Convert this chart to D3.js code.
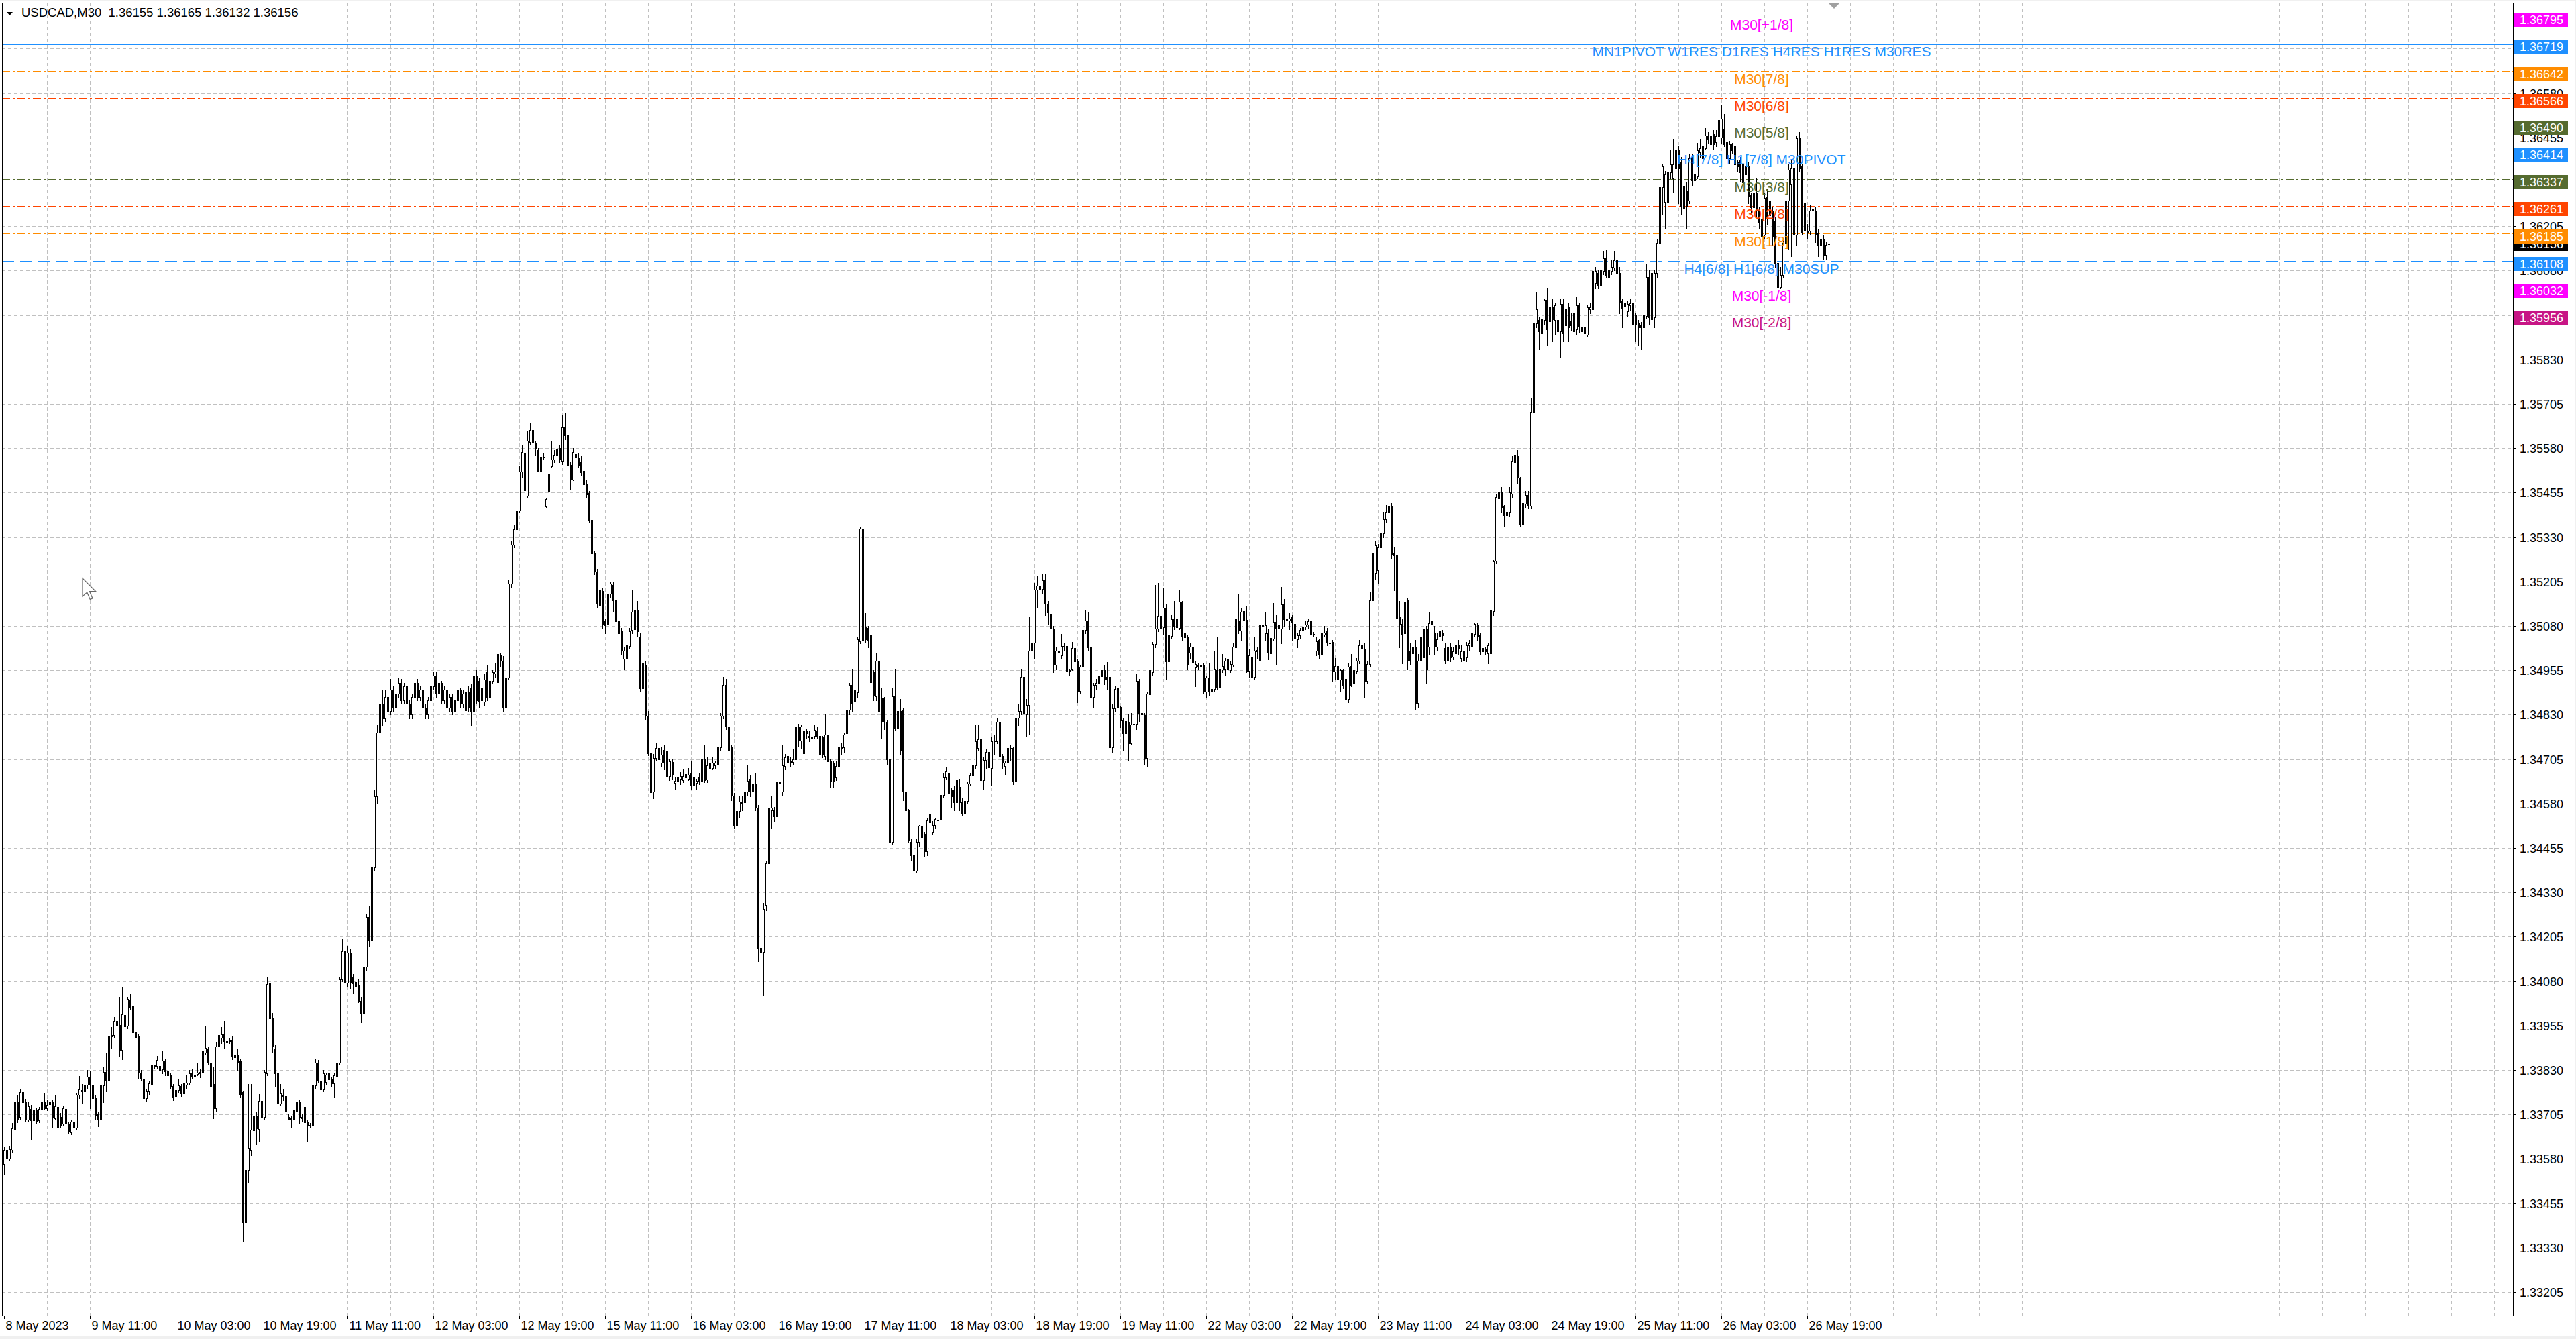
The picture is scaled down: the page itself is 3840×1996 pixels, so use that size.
<!DOCTYPE html>
<html><head><meta charset="utf-8">
<script src="https://cdn.jsdelivr.net/npm/d3@7"></script>
<style>
html,body{margin:0;padding:0;background:#fff;overflow:hidden;}
svg{display:block;}
text{font-family:"Liberation Sans",Arial,sans-serif;}
</style></head>
<body>
<svg id="chart" width="3840" height="1996"></svg>
<script>
// ---------------- DATA ----------------
// prices stored as points (0.00001) above BASE
const BASE = 1.33, POINT = 0.00001;
const symbolTitle = "USDCAD,M30";
const lastOHLC = [1.36155, 1.36165, 1.36132, 1.36156];

const candleOpen = [
565,605,581,605,664,739,697,767,741,690, 721,688,719,688,718,739,723,733,739,695,
726,698,679,721,679,654,685,668,760,773, 770,788,809,788,751,705,691,787,825,799,
924,928,967,956,887,985,954,1028,1009,935, 926,822,805,751,769,790,843,841,841,831,
855,827,814,785,755,773,785,764,788,795, 821,813,819,821,824,880,888,849,790,723,
896,921,932,907,912,914,874,874,855,767, 401,548,604,660,702,663,743,698,821,1075,
975,890,821,736,761,757,698,694,690,714, 741,695,726,682,676,674,786,851,800,775,
796,820,806,792,812,851,1085,1165,1075,1160, 1091,1077,1067,1025,989,1120,1260,1195,1400,1600,
1780,1860,1820,1880,1840,1900,1850,1890,1920,1870, 1910,1860,1830,1880,1920,1880,1900,1850,1830,1870,
1910,1940,1890,1920,1870,1900,1850,1880,1840,1870, 1900,1860,1893,1895,1904,1838,1938,1926,1904,1866,
1949,1880,1926,1946,1921,1999,1982,1849,1934,2198, 2309,2351,2405,2514,2566,2447,2597,2632,2595,2575,
2517,2554,2416,2458,2530,2549,2561,2580,2544,2641, 2616,2533,2492,2564,2553,2541,2516,2481,2453,2378,
2283,2233,2139,2179,2093,2085,2170,2196,2152,2093, 2065,1988,1988,2024,2068,2071,2126,2048,1904,1971,
1827,1722,1613,1708,1736,1694,1730,1727,1657,1697, 1639,1642,1650,1646,1663,1650,1666,1655,1639,1655,
1642,1705,1647,1694,1680,1688,1691,1738,1827,1913, 1797,1738,1602,1520,1558,1581,1583,1613,1650,1616,
1635,1569,1173,1162,1295,1411,1561,1561,1544,1639, 1613,1685,1694,1699,1696,1705,1796,1757,1722,1783,
1771,1768,1771,1785,1771,1766,1714,1774,1699,1694, 1655,1686,1736,1738,1777,1844,1913,1866,1893,2037,
2353,2076,2074,2054,1949,1882,1982,1877,1877,1810, 1705,1472,1882,1791,1840,1843,1613,1560,1472,1434,
1391,1472,1517,1494,1445,1552,1500,1519,1533,1535, 1604,1656,1666,1620,1620,1584,1627,1585,1554,1588,
1636,1658,1688,1736,1763,1646,1702,1725,1680,1755, 1756,1810,1714,1686,1694,1736,1736,1642,1822,1840,
1937,1831,1858,2010,2032,2182,2194,2183,2208,2143, 2114,2073,1971,2007,1996,2024,2024,1955,1960,2018,
1980,1897,1964,2068,2093,2019,1879,1914,1919,1939, 1956,1936,1936,1739,1848,1905,1851,1813,1777,1810,
1749,1802,1805,1926,1834,1829,1708,1888,1950,2029, 2072,2108,2076,2131,1979,2051,2099,2101,2075,2147,
2059,2049,2004,2019,1963,1967,1966,1971,1895,1933, 1895,1903,1958,1906,1957,1960,1985,1955,1971,2020,
2095,2067,2121,2097,1953,1994,1936,2009,1982,2082, 2059,2059,2002,2045,2092,2081,2073,2140,2101,2095,
2104,2086,2043,2054,2067,2079,2084,2093,2057,2010, 2040,1999,2056,2067,2032,2034,1952,1966,1929,1955,
1930,1875,1967,1919,1953,1982,2026,2015,1926,1972, 2152,2230,2237,2301,2340,2380,2400,2417,2286,2281,
2105,2085,2060,2151,2009,2003,2020,1862,1981,2071, 2071,2021,2083,2060,2021,2064,2060,2017,1983,2020,
1994,2003,2026,1990,2009,1992,2026,2024,2058,2083, 2054,2009,2015,2003,2003,2122,2264,2439,2456,2417,
2392,2400,2451,2541,2560,2496,2366,2423,2448,2417, 2683,2932,2941,2903,2941,2997,2937,2977,2941,2941,
2909,2986,2926,2977,2937,2909,2915,2983,2920,2903, 2900,2971,2971,3045,3073,3039,3079,3115,3062,3079,
3088,3109,3073,2994,2988,2966,2983,2988,2954,2932, 2926,2920,2952,3062,3073,2949,3073,3158,3314,3274,
3356,3356,3339,3368,3419,3385,3254,3305,3277,3396, 3334,3345,3413,3396,3424,3461,3435,3464,3441,3458,
3455,3477,3443,3396,3435,3432,3385,3390,3379,3351, 3375,3294,3258,3300,3251,3226,3181,3288,3277,3249,
3220,3101,3034,3068,3158,3277,3322,3368,3181,3452, 3373,3271,3192,3192,3254,3249,3186,3152,3167,3124,3155];

const candleHigh = [
612,633,614,681,831,758,775,802,748,740, 731,725,725,727,745,764,745,746,745,760,
735,710,730,728,685,690,718,766,813,790, 850,830,827,795,758,712,792,840,880,930,
950,980,982,1035,1062,1066,1035,1045,1040,940, 930,830,810,775,800,848,846,870,845,884,
860,830,820,790,778,806,790,800,815,830, 834,838,848,834,888,955,895,855,840,910,
975,950,968,935,920,925,935,890,860,770, 630,790,790,840,713,763,765,830,1090,1147,
990,900,830,790,775,760,705,700,722,750, 746,705,735,690,680,795,860,858,805,830,
820,825,810,822,876,1090,1200,1175,1180,1172, 1100,1080,1085,1035,1160,1270,1290,1420,1620,1800,
1880,1900,1900,1920,1930,1910,1895,1935,1930,1920, 1915,1870,1890,1930,1930,1910,1905,1860,1880,1920,
1950,1950,1930,1925,1910,1905,1890,1890,1880,1910, 1905,1900,1900,1912,1915,1960,1955,1935,1925,1945,
1968,1935,1955,1975,2035,2005,1995,2010,2210,2320, 2365,2415,2530,2590,2595,2630,2650,2650,2600,2580,
2575,2565,2438,2510,2600,2575,2605,2590,2675,2680, 2620,2540,2580,2590,2565,2560,2520,2490,2460,2385,
2290,2240,2200,2185,2100,2180,2205,2205,2160,2100, 2075,2020,2060,2075,2180,2140,2150,2060,2050,1980,
1840,1730,1720,1750,1750,1740,1745,1735,1705,1705, 1655,1665,1668,1675,1670,1680,1700,1665,1650,1665,
1795,1745,1710,1700,1710,1700,1750,1835,1937,1930, 1800,1745,1610,1570,1600,1600,1700,1690,1660,1720,
1665,1575,1240,1300,1420,1590,1600,1570,1650,1700, 1745,1720,1740,1710,1735,1830,1805,1800,1810,1790,
1785,1775,1800,1795,1780,1770,1830,1780,1705,1700, 1700,1745,1750,1780,1880,1920,1960,1910,2050,2360,
2360,2115,2080,2060,1955,2005,1990,1905,1880,1815, 1710,1905,1960,1890,1875,1850,1625,1565,1480,1440,
1480,1520,1525,1500,1540,1560,1530,1540,1545,1612, 1664,1683,1672,1625,1630,1725,1650,1595,1592,1640,
1665,1700,1800,1800,1770,1710,1735,1730,1768,1775, 1820,1820,1720,1700,1741,1745,1740,1830,1860,1960,
1975,1875,2105,2090,2200,2220,2244,2225,2225,2150, 2120,2080,2020,2015,2058,2030,2030,1960,2035,2022,
1985,1968,2080,2125,2120,2025,1920,1930,1950,1975, 1970,1978,1945,1860,1910,1915,1855,1820,1825,1830,
1835,1815,1945,1930,1840,1835,1895,1960,2035,2195, 2200,2236,2187,2140,2060,2110,2150,2160,2180,2150,
2070,2055,2030,2020,1980,1975,1975,1975,1940,1975, 1910,2010,2050,1970,2000,1990,2000,1980,2030,2105,
2170,2130,2175,2135,2015,1998,2050,2020,2100,2125, 2120,2070,2125,2145,2110,2100,2190,2155,2140,2115,
2110,2095,2060,2075,2090,2095,2100,2100,2063,2050, 2045,2070,2080,2075,2040,2040,1990,1970,1960,1960,
1960,1975,2000,1960,1990,2040,2055,2030,1980,2175, 2312,2320,2310,2350,2400,2420,2430,2425,2300,2290,
2150,2100,2175,2160,2030,2030,2040,2000,2150,2080, 2080,2120,2110,2080,2060,2075,2068,2030,2030,2030,
2020,2035,2040,2025,2020,2035,2040,2065,2090,2090, 2060,2030,2020,2030,2130,2265,2450,2465,2470,2420,
2410,2470,2560,2575,2575,2500,2430,2460,2460,2720, 2945,3020,2950,2990,3000,3030,2990,3000,2990,2960,
3000,3000,2980,2990,2960,2970,3005,2990,2935,2930, 2985,2990,3100,3090,3080,3090,3135,3140,3095,3110,
3135,3130,3090,3000,3000,2995,3000,3000,2960,2940, 2935,2960,3100,3080,3110,3080,3170,3325,3380,3360,
3390,3420,3450,3425,3430,3400,3330,3330,3410,3410, 3360,3440,3450,3440,3480,3470,3470,3475,3475,3520,
3545,3520,3450,3445,3440,3440,3390,3400,3385,3395, 3385,3300,3310,3340,3260,3235,3300,3310,3290,3260,
3230,3110,3090,3170,3300,3380,3390,3400,3460,3470, 3380,3290,3210,3265,3265,3260,3195,3175,3180,3160,3165];

const candleLow = [
537,558,576,600,658,682,690,732,685,684, 635,680,680,683,712,718,716,727,670,690,
664,668,673,675,650,648,661,662,750,735, 764,777,723,745,690,672,685,740,770,794,
892,920,935,870,860,940,947,1000,890,905, 805,800,722,744,762,782,835,835,815,820,
815,800,780,745,740,768,755,745,780,790, 807,807,814,810,818,874,846,775,695,715,
890,905,890,880,905,860,840,830,752,347, 357,515,590,596,620,628,680,690,815,960,
880,785,730,730,745,705,690,668,686,700, 680,685,665,630,668,668,780,795,760,770,
790,795,782,752,806,846,1080,1020,1065,1060, 1045,1040,1020,965,960,1110,1180,1185,1390,1580,
1760,1800,1810,1830,1830,1840,1840,1880,1860,1860, 1850,1820,1820,1870,1870,1870,1840,1820,1820,1860,
1900,1880,1880,1860,1860,1840,1840,1830,1830,1860, 1850,1850,1835,1840,1800,1825,1860,1850,1835,1858,
1870,1860,1920,1935,1905,1965,1840,1845,1929,2190, 2300,2340,2400,2500,2445,2440,2590,2585,2560,2515,
2510,2550,2414,2455,2525,2540,2555,2540,2535,2605, 2510,2465,2490,2545,2525,2505,2470,2440,2370,2275,
2225,2130,2125,2075,2060,2075,2160,2120,2080,2050, 2000,1960,1975,2015,2060,2060,2050,1895,1890,1815,
1715,1595,1595,1700,1680,1685,1675,1650,1645,1650, 1620,1630,1635,1640,1640,1645,1620,1620,1620,1635,
1638,1640,1640,1660,1675,1680,1685,1730,1820,1790, 1720,1590,1510,1480,1540,1560,1575,1605,1600,1610,
1560,1135,1096,1040,1280,1400,1510,1530,1535,1600, 1605,1675,1685,1685,1690,1700,1740,1735,1700,1765,
1755,1760,1765,1765,1710,1710,1705,1690,1625,1625, 1645,1680,1720,1725,1770,1830,1840,1830,1880,2030,
2030,2035,2020,1910,1870,1870,1825,1765,1790,1690, 1420,1465,1785,1780,1720,1590,1540,1470,1420,1370,
1385,1460,1470,1430,1435,1520,1495,1510,1520,1530, 1598,1650,1590,1570,1560,1578,1560,1545,1523,1580,
1630,1645,1680,1731,1640,1620,1680,1616,1630,1720, 1750,1700,1678,1660,1690,1700,1635,1638,1800,1830,
1780,1770,1775,2000,1990,2130,2175,2170,2110,2085, 2060,1950,1960,1990,1990,2010,1945,1940,1955,1915,
1865,1890,1960,2060,2010,1860,1850,1900,1910,1930, 1915,1900,1730,1725,1840,1845,1795,1730,1700,1700,
1745,1790,1790,1810,1790,1690,1685,1880,1940,2020, 2065,2070,2055,1930,1970,2045,2070,2070,2070,2040,
2045,1960,1990,1930,1910,1960,1910,1890,1880,1885, 1855,1895,1900,1900,1950,1940,1950,1950,1965,2015,
2060,2040,2090,1950,1935,1900,1930,1990,1960,2060, 2040,1985,1955,2040,1970,2050,2030,2080,2060,2070,
2040,2030,2020,2045,2040,2070,2075,2050,2050,1996, 1990,1995,2050,2025,2020,1925,1930,1925,1895,1905,
1855,1865,1910,1915,1945,1975,2010,1880,1920,1965, 2145,2210,2200,2290,2330,2370,2380,2270,2180,2090,
2020,1975,2020,1960,1970,1990,1845,1850,1970,1920, 1920,2000,2070,2000,2010,2030,2040,1975,1975,1980,
1985,1995,2000,1980,1975,1980,2010,2015,2050,2040, 2000,2000,2000,1975,1990,2110,2255,2430,2400,2360,
2370,2390,2440,2535,2480,2360,2320,2415,2410,2410, 2680,2920,2860,2890,2930,2870,2900,2880,2900,2880,
2835,2880,2860,2880,2910,2880,2900,2905,2895,2885, 2895,2960,2960,3030,3030,3020,3070,3060,3050,3070,
3080,3060,2960,2920,2960,2950,2970,2900,2880,2870, 2860,2880,2945,2930,2920,2920,3060,3150,3240,3200,
3240,3340,3300,3360,3270,3240,3200,3200,3270,3320, 3320,3340,3400,3380,3420,3440,3420,3420,3430,3450,
3440,3430,3390,3380,3410,3370,3360,3330,3320,3340, 3270,3240,3200,3230,3200,3160,3170,3210,3200,3150,
3090,3030,3030,3060,3150,3140,3120,3120,3150,3360, 3180,3180,3170,3180,3220,3160,3120,3120,3110,3110,3132];

const candleClose = [
604,583,607,666,739,692,767,739,690,729, 688,717,687,721,739,723,732,739,697,729,
670,673,723,681,657,685,668,760,775,770, 788,812,788,751,704,691,787,825,802,924,
929,967,955,885,986,953,1030,1008,935,923, 822,806,751,769,792,843,841,858,828,856,
827,814,784,753,773,787,764,792,795,821, 813,817,822,824,882,892,851,785,723,896,
928,931,909,912,914,869,866,852,761,401, 548,610,662,701,666,743,698,824,1071,975,
896,821,736,764,757,714,692,690,717,739, 698,698,682,673,674,786,851,802,775,820,
816,803,792,814,851,1085,1165,1075,1160,1075, 1074,1066,1024,989,1120,1260,1195,1400,1600,1780,
1860,1820,1880,1840,1900,1850,1890,1920,1870,1910, 1860,1830,1880,1920,1880,1900,1850,1830,1870,1910,
1940,1890,1920,1870,1900,1850,1880,1840,1870,1900, 1860,1890,1843,1849,1838,1938,1871,1866,1871,1929,
1877,1926,1949,1951,2001,1982,1849,1932,2198,2309, 2351,2405,2514,2569,2461,2602,2632,2595,2578,2517,
2556,2556,2436,2506,2549,2561,2577,2549,2639,2616, 2533,2492,2569,2553,2533,2512,2479,2450,2378,2283,
2233,2143,2182,2085,2082,2170,2198,2152,2093,2060, 2010,2010,2026,2065,2120,2126,2065,1904,1976,1827,
1722,1611,1708,1736,1705,1718,1694,1657,1699,1661, 1644,1655,1657,1657,1655,1661,1630,1630,1644,1641,
1705,1646,1688,1680,1694,1694,1738,1827,1913,1797, 1729,1602,1520,1558,1585,1584,1613,1644,1616,1635,
1569,1173,1162,1284,1411,1569,1569,1544,1641,1641, 1688,1710,1713,1694,1705,1796,1757,1796,1783,1777,
1766,1764,1788,1771,1718,1718,1774,1699,1641,1641, 1686,1738,1738,1774,1844,1913,1860,1899,2043,2353,
2041,2043,2040,1921,1884,1982,1838,1810,1810,1705, 1472,1882,1791,1840,1729,1613,1560,1478,1434,1391,
1472,1517,1486,1445,1533,1527,1519,1537,1535,1605, 1656,1670,1607,1601,1584,1647,1584,1554,1588,1636,
1658,1688,1755,1761,1646,1703,1725,1681,1756,1757, 1810,1714,1695,1695,1736,1737,1642,1822,1840,1937,
1834,1858,2011,2032,2181,2194,2183,2208,2143,2117, 2072,1971,2010,2008,2024,2023,1953,1951,2018,1979,
1897,1964,2068,2096,2019,1879,1914,1919,1939,1956, 1930,1928,1739,1848,1903,1851,1813,1777,1812,1749,
1802,1805,1926,1832,1831,1708,1890,1955,2029,2072, 2108,2075,2131,1979,2054,2099,2079,2076,2148,2050,
2048,1973,2021,1977,1972,1969,1969,1895,1934,1895, 1903,1960,1906,1960,1966,1982,1957,1972,2021,2099,
2067,2119,2097,1953,1997,1936,2011,2012,2084,2079, 2082,2004,2046,2092,2073,2073,2140,2099,2095,2101,
2089,2045,2054,2068,2079,2084,2093,2058,2056,2036, 1999,2062,2062,2032,2030,1952,1966,1929,1955,1912,
1873,1964,1914,1955,1982,2026,2015,1926,1972,2152, 2284,2306,2301,2340,2380,2400,2417,2281,2279,2100,
2083,2058,2148,1981,1981,2020,1862,1981,2049,1992, 1958,2088,2094,2021,2043,2049,2054,1983,2020,1992,
2009,2026,2015,2009,1984,2026,2030,2060,2085,2049, 2009,2018,2009,2026,2125,2262,2442,2456,2414,2391,
2400,2456,2544,2562,2498,2366,2425,2448,2417,2683, 2934,2971,2909,2943,2997,2915,2977,2943,2983,2909,
2986,2903,2971,2920,2926,2960,2983,2923,2909,2920, 2977,2977,3079,3079,3039,3081,3115,3068,3082,3090,
3109,3073,2991,2975,2979,2986,2988,2930,2930,2920, 2920,2954,3062,2949,2943,3073,3158,3314,3373,3351,
3271,3379,3379,3419,3368,3260,3317,3260,3396,3334, 3351,3419,3424,3430,3461,3450,3458,3435,3458,3503,
3507,3435,3396,3435,3419,3379,3373,3356,3328,3375, 3288,3258,3300,3251,3217,3175,3285,3226,3235,3175,
3099,3034,3068,3158,3277,3364,3368,3181,3452,3368, 3187,3192,3186,3249,3249,3183,3152,3167,3124,3152,3156];

// time axis labels, one every 32 bars starting at bar 0
const timeLabels = ["8 May 2023","9 May 11:00","10 May 03:00","10 May 19:00","11 May 11:00","12 May 03:00",
  "12 May 19:00","15 May 11:00","16 May 03:00","16 May 19:00","17 May 11:00","18 May 03:00","18 May 19:00",
  "19 May 11:00","22 May 03:00","22 May 19:00","23 May 11:00","24 May 03:00","24 May 19:00","25 May 11:00",
  "26 May 03:00","26 May 19:00"];
const barsPerTimeLabel = 32;

// price axis tick labels
const priceTicks = ["1.33205","1.33330","1.33455","1.33580","1.33705","1.33830","1.33955","1.34080","1.34205",
  "1.34330","1.34455","1.34580","1.34705","1.34830","1.34955","1.35080","1.35205","1.35330","1.35455","1.35580",
  "1.35705","1.35830","1.35955","1.36080","1.36205","1.36330","1.36455","1.36580","1.36705"];

// horizontal level objects
const levelPrices = [1.36795,1.36719,1.36642,1.36566,1.36490,1.36414,1.36337,1.36261,1.36185,1.36108,1.36032,1.35956];
const levelNames = ["M30[+1/8]","MN1PIVOT W1RES D1RES H4RES H1RES M30RES","M30[7/8]","M30[6/8]","M30[5/8]",
  "H4[7/8] H1[7/8] M30PIVOT","M30[3/8]","M30[2/8]","M30[1/8]","H4[6/8] H1[6/8] M30SUP","M30[-1/8]","M30[-2/8]"];

// ---------------- STYLE ----------------
const levelColors = ["#FF00FF","#1E90FF","#FF8C00","#FF4500","#556B2F","#1E90FF","#556B2F","#FF4500","#FF8C00","#1E90FF","#FF00FF","#C71585"];
const levelStyle = ["dashdot","solid","dashdot","dashdot","dashdot","dash","dashdot","dashdot","dashdot","dash","dashdot","dashdot"];
const dashMap = {dashdot:"12,4,3,4", dash:"18,9", solid:null};

// ---------------- DRAW ----------------
const W = 3840, H = 1996;
const plot = {left:3, top:4, right:3746, bottom:1961};
const svg = d3.select("#chart");

const n = Math.min(candleOpen.length, candleHigh.length, candleLow.length, candleClose.length);
const bars = d3.range(n).map(i => ({
  i, o: BASE + candleOpen[i]*POINT, h: BASE + candleHigh[i]*POINT,
  l: BASE + candleLow[i]*POINT, c: BASE + candleClose[i]*POINT }));

const x = d3.scaleLinear().domain([0, 680]).range([6.25, 2726.25]);
const y = d3.scaleLinear().domain([1.33139, 1.36834]).range([plot.bottom, plot.top]);

// background
svg.append("rect").attr("width", W).attr("height", H).attr("fill", "#F0F0F0");
svg.append("rect").attr("x", 0).attr("y", 2).attr("width", 3838).attr("height", 1989).attr("fill", "#FFFFFF");

const defs = svg.append("defs");
defs.append("clipPath").attr("id","plotClip").append("rect")
  .attr("x", plot.left).attr("y", plot.top).attr("width", plot.right-plot.left).attr("height", plot.bottom-plot.top);

const g = svg.append("g").attr("clip-path","url(#plotClip)").attr("shape-rendering","crispEdges");

// grid
const gridColor = "#C0C0C0";
priceTicks.forEach(t => {
  const yy = Math.round(y(+t)) + 0.5;
  g.append("line").attr("x1", plot.left).attr("x2", plot.right).attr("y1", yy).attr("y2", yy)
    .attr("stroke", gridColor).attr("stroke-dasharray","5,4");
});
for (let b = 16; x(b) < plot.right; b += 16) {
  const xx = Math.round(x(b)) + 0.5;
  g.append("line").attr("x1", xx).attr("x2", xx).attr("y1", plot.top).attr("y2", plot.bottom)
    .attr("stroke", gridColor).attr("stroke-dasharray","5,4");
}

// level lines
levelPrices.forEach((p, k) => {
  const yy = Math.round(y(p)) + 0.5;
  const ln = g.append("line").attr("x1", plot.left).attr("x2", plot.right).attr("y1", yy).attr("y2", yy)
    .attr("stroke", levelColors[k]).attr("stroke-width", levelStyle[k]==="solid" ? 2 : 1);
  if (dashMap[levelStyle[k]]) ln.attr("stroke-dasharray", dashMap[levelStyle[k]]);
});

// current price line
const lastClose = lastOHLC[3];
g.append("line").attr("x1", plot.left).attr("x2", plot.right)
  .attr("y1", Math.round(y(lastClose))+0.5).attr("y2", Math.round(y(lastClose))+0.5)
  .attr("stroke", "#C0C0C0");

// candles
const cg = g.append("g");
bars.forEach(d => {
  const cx = Math.round(x(d.i));
  const hi = Math.max(d.h, d.o, d.c), lo = Math.min(d.l, d.o, d.c);
  cg.append("line").attr("x1", cx+0.5).attr("x2", cx+0.5)
    .attr("y1", Math.round(y(hi))).attr("y2", Math.round(y(lo))+1).attr("stroke", "#000");
  const top = Math.round(y(Math.max(d.o, d.c)));
  const bot = Math.round(y(Math.min(d.o, d.c)));
  const hgt = Math.max(1, bot - top + 1);
  cg.append("rect").attr("x", cx-1).attr("y", top).attr("width", 3).attr("height", hgt).attr("fill", "#000");
  if (d.c > d.o && hgt > 2) {
    cg.append("rect").attr("x", cx).attr("y", top+1).attr("width", 1).attr("height", hgt-2).attr("fill", "#fff");
  }
});

// level labels in chart
const labelX = 2626;
levelPrices.forEach((p, k) => {
  g.append("text").attr("x", labelX).attr("y", y(p) + 19).attr("text-anchor","middle")
    .attr("font-size", 21).attr("fill", levelColors[k]).text(levelNames[k]);
});

// chart-shift marker
svg.append("path").attr("d","M2726,5 L2742,5 L2734,13 Z").attr("fill","#A0A0A0");

// mouse cursor
svg.append("path").attr("transform","translate(123,862) scale(1.5)")
  .attr("d","M0,0 L0,18 L4.5,14 L7.5,21 L10,20 L7,13 L13,13 Z")
  .attr("fill","#fff").attr("stroke","#666").attr("stroke-width",0.8);

// title
svg.append("path").attr("d","M10,18 L19,18 L14.5,23 Z").attr("fill","#000");
svg.append("text").attr("x", 32).attr("y", 25).attr("font-size", 18.5).attr("fill","#000")
  .style("white-space","pre")
  .text(symbolTitle + "  " + lastOHLC.map(v => v.toFixed(5)).join(" "));

// frame
const fr = svg.append("g").attr("shape-rendering","crispEdges");
fr.append("line").attr("x1", plot.left+0.5).attr("x2", plot.left+0.5).attr("y1", plot.top).attr("y2", plot.bottom+1).attr("stroke","#000");
fr.append("line").attr("x1", plot.left).attr("x2", plot.right+1).attr("y1", plot.top+0.5).attr("y2", plot.top+0.5).attr("stroke","#000");
fr.append("line").attr("x1", plot.right+0.5).attr("x2", plot.right+0.5).attr("y1", plot.top).attr("y2", plot.bottom+1).attr("stroke","#000");
fr.append("line").attr("x1", plot.left).attr("x2", plot.right+1).attr("y1", plot.bottom+0.5).attr("y2", plot.bottom+0.5).attr("stroke","#000");

// right price axis
const ax = svg.append("g");
priceTicks.forEach(t => {
  const yy = Math.round(y(+t)) + 0.5;
  ax.append("line").attr("x1", plot.right).attr("x2", plot.right+4).attr("y1", yy).attr("y2", yy)
    .attr("stroke","#000").attr("shape-rendering","crispEdges");
  ax.append("text").attr("x", plot.right+10).attr("y", yy).attr("dy","0.36em")
    .attr("font-size", 18).attr("fill","#000").text(t);
});
// current price label (under level labels)
const boxW = 80, boxH = 21;
ax.append("rect").attr("x", plot.right+2).attr("y", Math.round(y(lastClose)) - 10).attr("width", boxW).attr("height", boxH)
  .attr("fill","#000");
ax.append("text").attr("x", plot.right+10).attr("y", Math.round(y(lastClose)) + 0.5).attr("dy","0.36em")
  .attr("font-size", 18).attr("fill","#fff").text(lastClose.toFixed(5));
// level price labels
levelPrices.forEach((p, k) => {
  const yy = Math.round(y(p));
  ax.append("rect").attr("x", plot.right+2).attr("y", yy - 6).attr("width", boxW).attr("height", boxH)
    .attr("fill", levelColors[k]);
  ax.append("text").attr("x", plot.right+10).attr("y", yy - 6 + boxH/2).attr("dy","0.36em")
    .attr("font-size", 18).attr("fill","#fff").text(p.toFixed(5));
});

// bottom time axis
timeLabels.forEach((lab, k) => {
  const xx = Math.round(x(k*barsPerTimeLabel)) + 0.5;
  ax.append("line").attr("x1", xx).attr("x2", xx).attr("y1", plot.bottom).attr("y2", plot.bottom+5)
    .attr("stroke","#000").attr("shape-rendering","crispEdges");
  ax.append("text").attr("x", xx + 2).attr("y", 1982).attr("font-size", 18).attr("fill","#000").text(lab);
});
</script>
</body></html>
